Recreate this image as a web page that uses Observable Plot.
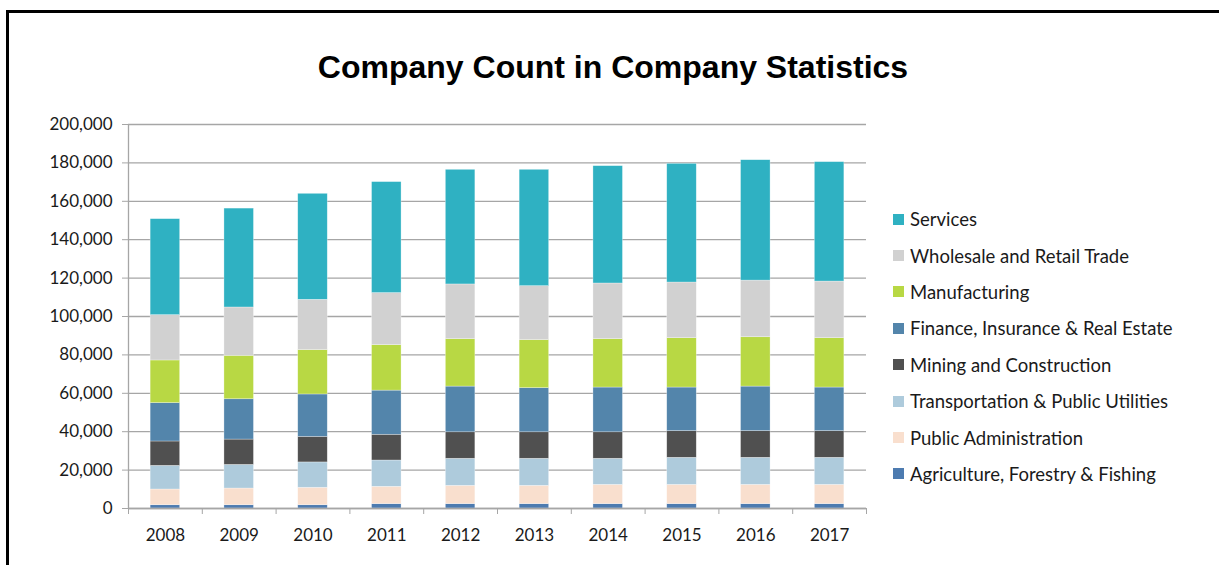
<!DOCTYPE html>
<html>
<head>
<meta charset="utf-8">
<script src="https://cdn.jsdelivr.net/npm/d3@7"></script>
<script src="https://cdn.jsdelivr.net/npm/@observablehq/plot@0.6"></script>
<style>
  html, body { margin: 0; padding: 0; background: #fff; }
  body { width: 1219px; height: 565px; overflow: hidden; position: relative; }
  #frame { position: absolute; left: 6px; top: 10px; width: 1300px; height: 700px;
           border-left: 3px solid #000; border-top: 3px solid #000; }
  #title { position: absolute; left: 0; width: 1226px; top: 49px; text-align: center;
           font-family: "Liberation Sans", Arial, sans-serif; font-weight: bold; font-size: 32px; color: #000; }
  #chart { position: absolute; left: 0; top: 0; }
  #legend { position: absolute; left: 893px; top: 201px; font-family: Lato, sans-serif; font-size: 18.5px; color: #1a1a1a; }
  #legend .item { height: 36.4px; display: flex; align-items: center; }
  #legend .item .sw { width: 11px; height: 11px; margin-right: 6px; flex: none; }
</style>
</head>
<body>
<div id="frame"></div>
<div id="chart"></div>
<div id="title">Company Count in Company Statistics</div>
<div id="legend"></div>
<script>
const years = [2008, 2009, 2010, 2011, 2012, 2013, 2014, 2015, 2016, 2017];
const sectors = [
  "Agriculture, Forestry & Fishing",
  "Public Administration",
  "Transportation & Public Utilities",
  "Mining and Construction",
  "Finance, Insurance & Real Estate",
  "Manufacturing",
  "Wholesale and Retail Trade",
  "Services"
];
const colors = ["#4d7bb0", "#f9dfce", "#aecbdc", "#505050", "#5385ab", "#b8d844", "#d1d1d1", "#2fb1c2"];

const agriculture    = [1700, 1700, 1700, 2300, 2300, 2300, 2300, 2300, 2300, 2300];
const publicAdmin    = [8200, 8700, 9100, 9000, 9500, 9500, 10000, 10000, 10000, 10000];
const transportation = [12300, 12300, 13200, 13700, 14100, 14100, 13600, 14100, 14100, 14100];
const mining         = [12700, 13200, 13300, 13400, 13800, 13800, 13800, 13900, 13900, 13900];
const finance        = [20000, 21000, 22100, 23000, 23800, 23000, 23300, 22700, 23200, 22700];
const manufacturing  = [22200, 22600, 23100, 23700, 24700, 25000, 25200, 25700, 25700, 25700];
const wholesale      = [23600, 25200, 26200, 27100, 28500, 28100, 29000, 29000, 29500, 29500];
const services       = [50000, 51500, 55200, 57800, 59700, 60600, 61100, 61800, 62700, 62200];

const yTicks = [0, 20000, 40000, 60000, 80000, 100000, 120000, 140000, 160000, 180000, 200000];

const series = [agriculture, publicAdmin, transportation, mining, finance, manufacturing, wholesale, services];

// Build a stacked table from the arrays
const rows = [];
years.forEach((yr, i) => {
  let base = 0;
  sectors.forEach((s, j) => {
    const v = series[j][i];
    rows.push({year: yr, sector: s, y1: base, y2: base + v});
    base += v;
  });
});

const halfBar = 0.2;
const boundaries = years.map(y => y - 0.5).concat([years[years.length - 1] + 0.5]);
const gridColor = "#a6a6a6";

const chart = Plot.plot({
  width: 1219,
  height: 565,
  marginLeft: 128,
  marginRight: 353,
  marginTop: 124,
  marginBottom: 57,
  style: {fontFamily: "Lato, sans-serif", fontSize: "17px", color: "#1a1a1a", background: "transparent"},
  x: {type: "linear", domain: [boundaries[0], boundaries[boundaries.length - 1]]},
  y: {domain: [0, 200000]},
  color: {domain: sectors, range: colors},
  marks: [
    Plot.gridY({ticks: yTicks, stroke: gridColor, strokeOpacity: 1, strokeWidth: 1.3}),
    Plot.axisY({ticks: yTicks, tickSize: 6, stroke: gridColor, tickPadding: 10,
      tickFormat: d3.format(","), label: null, fill: "#1a1a1a"}),
    Plot.rect(rows, {
      x1: d => d.year - halfBar, x2: d => d.year + halfBar,
      y1: "y1", y2: "y2", fill: "sector",
      stroke: "#ffffff", strokeOpacity: 0.5, strokeWidth: 0.6
    }),
    Plot.ruleX([boundaries[0]], {y1: 0, y2: 200000, stroke: gridColor, strokeWidth: 1.3}),
    Plot.ruleY([0], {stroke: gridColor, strokeWidth: 1.3}),
    Plot.axisX({ticks: boundaries, tickSize: 6, stroke: gridColor, tickFormat: () => "", label: null}),
    Plot.axisX({ticks: years, tickSize: 0, tickPadding: 20, tickFormat: d => String(d), label: null, fill: "#1a1a1a"})
  ]
});
document.getElementById("chart").appendChild(chart);

// Legend (top-to-bottom order as in reference)
const legend = document.getElementById("legend");
sectors.slice().reverse().forEach(s => {
  const item = document.createElement("div");
  item.className = "item";
  const sw = document.createElement("span");
  sw.className = "sw";
  sw.style.background = colors[sectors.indexOf(s)];
  const label = document.createElement("span");
  label.textContent = s;
  item.appendChild(sw);
  item.appendChild(label);
  legend.appendChild(item);
});
</script>
</body>
</html>
